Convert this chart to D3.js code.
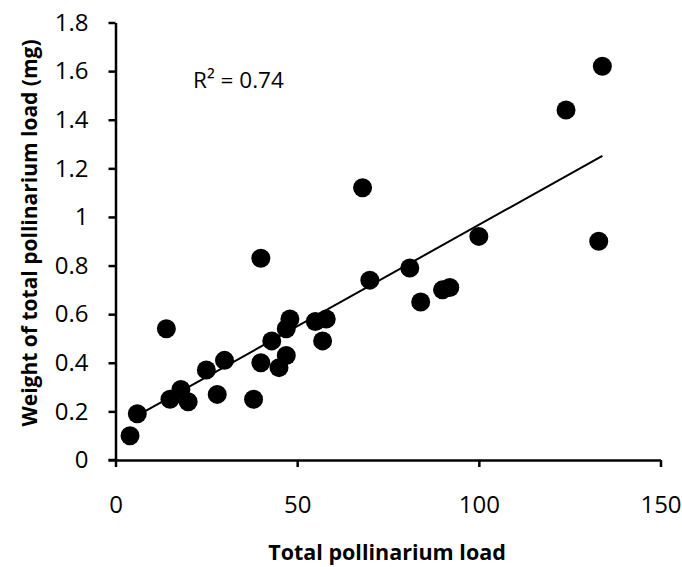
<!DOCTYPE html>
<html><head><meta charset="utf-8">
<script src="https://cdn.jsdelivr.net/npm/d3@7"></script>
<style>body{margin:0;background:#fff}svg{display:block}text{font-family:"Open Sans","Noto Sans",sans-serif;fill:#000}</style>
</head><body><svg id="c" width="682" height="567"></svg>
<script>
const loadX = [4,6,15,18,20,14,25,28,30,38,40,40,43,45,47,47,48,55,57,58,68,70,81,84,90,92,100,124,133,134];
const weightY = [0.10,0.19,0.25,0.29,0.24,0.54,0.37,0.27,0.41,0.25,0.40,0.83,0.49,0.38,0.43,0.54,0.58,0.57,0.49,0.58,1.12,0.74,0.79,0.65,0.70,0.71,0.92,1.44,0.90,1.62];
const xTicks = [0,50,100,150];
const yTicks = [0,0.2,0.4,0.6,0.8,1,1.2,1.4,1.6,1.8];
const r2Label = "R² = 0.74";

const svg = d3.select("#c");
const x = d3.scaleLinear().domain([0,150]).range([115.5,660.5]);
const y = d3.scaleLinear().domain([0,1.8]).range([460,22.5]);

const xa = svg.append("g").attr("transform","translate(0,460)")
  .call(d3.axisBottom(x).tickValues(xTicks).tickFormat(d3.format("d")).tickSizeOuter(0).tickSizeInner(7).tickPadding(29));
const ya = svg.append("g").attr("transform","translate(115.5,0)")
  .call(d3.axisLeft(y).tickValues(yTicks).tickFormat(d=>String(d)).tickSizeOuter(0).tickSizeInner(7).tickPadding(20));
[xa,ya].forEach(a=>{
  a.select(".domain").attr("stroke","#000").attr("stroke-width",2.5);
  a.selectAll(".tick line").attr("stroke","#000").attr("stroke-width",2.5);
  a.selectAll(".tick text").style("font-size","24px").attr("fill","#000");
});
svg.append("line").attr("x1",108.5).attr("x2",115.5).attr("y1",460).attr("y2",460).attr("stroke","#000").attr("stroke-width",2.5);

const n = loadX.length;
const mx = d3.mean(loadX), my = d3.mean(weightY);
let sxy=0,sxx=0;
for(let i=0;i<n;i++){sxy+=(loadX[i]-mx)*(weightY[i]-my);sxx+=(loadX[i]-mx)**2;}
const b = sxy/sxx, a0 = my - b*mx;
const x0 = d3.min(loadX), x1 = d3.max(loadX);
svg.append("line").attr("x1",x(x0)).attr("y1",y(a0+b*x0)).attr("x2",x(x1)).attr("y2",y(a0+b*x1))
  .attr("stroke","#000").attr("stroke-width",2);

svg.append("g").selectAll("circle").data(loadX.map((d,i)=>[d,weightY[i]])).join("circle")
  .attr("cx",d=>x(d[0])).attr("cy",d=>y(d[1])).attr("r",9.5).attr("fill","#000");

svg.append("text").attr("x",193).attr("y",88).style("font-size","22.5px").text(r2Label);

svg.append("text").attr("x",387).attr("y",560).attr("text-anchor","middle")
  .style("font-size","21.5px").style("font-weight","bold").text("Total pollinarium load");
svg.append("text").attr("transform","translate(37,233) rotate(-90)").attr("text-anchor","middle")
  .style("font-size","21px").style("font-weight","bold").text("Weight of total pollinarium load (mg)");
</script></body></html>
